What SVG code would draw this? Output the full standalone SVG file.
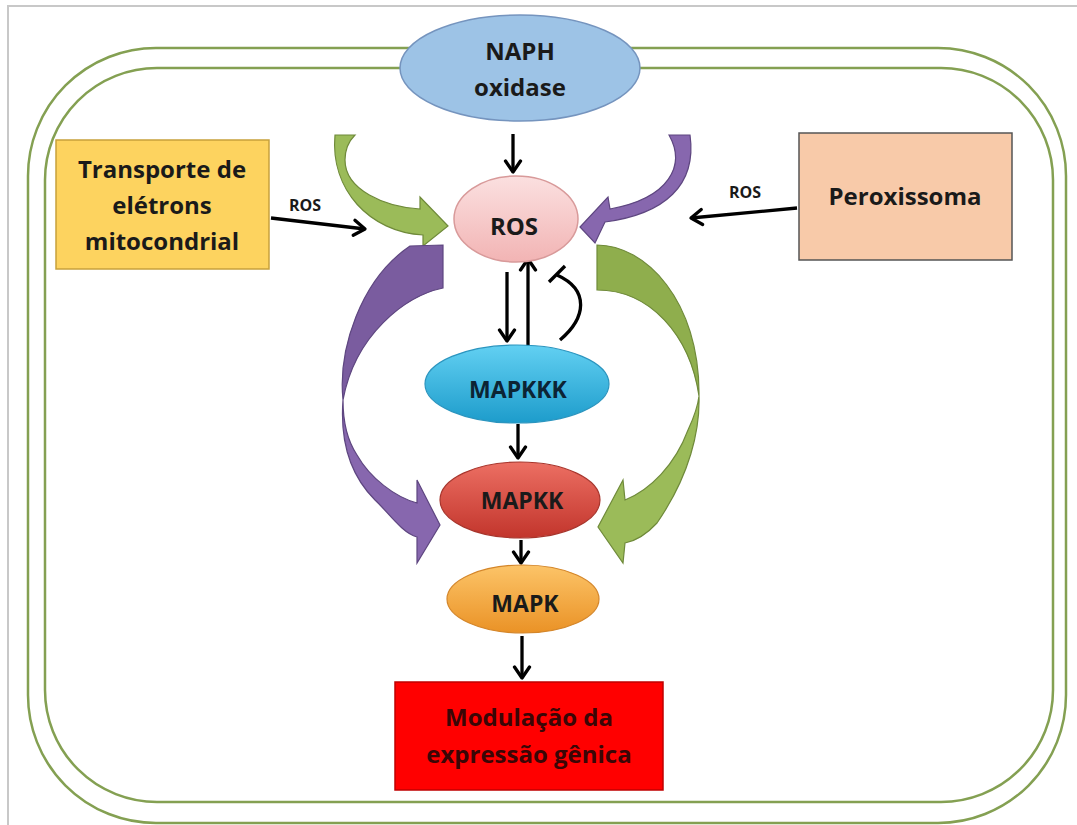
<svg xmlns="http://www.w3.org/2000/svg" width="1077" height="825" viewBox="0 0 1077 825">
<style>
.t{font-family:"Open Sans","Liberation Sans",sans-serif;font-weight:bold;text-anchor:middle;fill:#1a1a1a}
.big{font-size:24px}
.mid{font-size:23px}
.sm{font-size:16px}
.wall{fill:none;stroke:#84a052;stroke-width:2.5}
.ar{fill:none;stroke:#000;stroke-width:3.3}
.gu{fill:#8fae4d;stroke:#6f8a3a;stroke-width:1.2}
.gl{fill:#9bbb59;stroke:#6f8a3a;stroke-width:1.2}
.pu{fill:#7a5c9f;stroke:#5e4680;stroke-width:1.2}
.pl{fill:#8767ae;stroke:#5e4680;stroke-width:1.2}
</style>
<defs>
<marker id="ah" viewBox="-14 -10 16 20" refX="0" refY="0" markerWidth="16" markerHeight="20" markerUnits="userSpaceOnUse" orient="auto">
<path d="M-11,-7.5 L0,0 L-11,7.5" fill="none" stroke="#000" stroke-width="3.3" stroke-linejoin="round" stroke-linecap="round"/>
</marker>
<linearGradient id="gROS" x1="0" y1="0" x2="0" y2="1"><stop offset="0" stop-color="#fbe0e0"/><stop offset="1" stop-color="#f2b4b4"/></linearGradient>
<linearGradient id="gK3" x1="0" y1="0" x2="0" y2="1"><stop offset="0" stop-color="#62d0f2"/><stop offset="1" stop-color="#1d9ccb"/></linearGradient>
<linearGradient id="gK2" x1="0" y1="0" x2="0" y2="1"><stop offset="0" stop-color="#ec6f63"/><stop offset="1" stop-color="#c2352c"/></linearGradient>
<linearGradient id="gK1" x1="0" y1="0" x2="0" y2="1"><stop offset="0" stop-color="#fcc468"/><stop offset="1" stop-color="#ea9226"/></linearGradient>
</defs>
<rect width="1077" height="825" fill="#fff"/>
<path d="M8,825 L8,6 L1077,6" fill="none" stroke="#c8c8c8" stroke-width="2"/>
<g id="cell-wall">
<rect class="wall" x="28" y="48" width="1038" height="775" rx="128" ry="128"/>
<rect class="wall" x="45" y="68" width="1008" height="734" rx="112" ry="112"/>
</g>
<g id="curved-arrows">
<path class="gl" d="M335,135 C330,190 370,232 423,235 L423,246 L448,226 L420,197 L420,209 C385,207 345,190 345,160 C345,148 350,140 355,135 Z"/>
<path class="pl" d="M669,135 C686,165 670,198 610,209 L608,197 L580,227 L595,243 L605,222 C665,214 697,185 690,135 Z"/>
<path class="pu" d="M410,246 L443,245 L443,288 C405,296 355,335 343,400 C338,350 360,280 410,246 Z"/>
<path class="pl" d="M343,400 C340,440 350,475 375,500 C388,512 402,533 417,537 L417,563 L440,525 L417,480 L417,503 C395,497 370,478 357,455 C347,440 343,420 343,400 Z"/>
<path class="gu" d="M597,245 C645,245 700,300 699,396 C690,335 650,290 597,290 Z"/>
<path class="gl" d="M699,396 C700,430 690,475 657,523 C645,536 635,541 625,543 L623,563 L598,527 L623,480 L625,500 C650,490 675,465 688,430 C695,415 698,405 699,396 Z"/>
</g>
<g id="connectors">
<line class="ar" x1="513" y1="134" x2="513" y2="172" marker-end="url(#ah)"/>
<line class="ar" x1="507" y1="272" x2="507" y2="341" marker-end="url(#ah)"/>
<line class="ar" x1="528" y1="346" x2="528" y2="259" marker-end="url(#ah)"/>
<path class="ar" d="M560,340 C586,318 590,290 557,275"/>
<line class="ar" x1="549" y1="282" x2="565" y2="266"/>
<line class="ar" x1="518" y1="424" x2="518" y2="458" marker-end="url(#ah)"/>
<line class="ar" x1="521" y1="540" x2="521" y2="563" marker-end="url(#ah)"/>
<line class="ar" x1="522" y1="636" x2="522" y2="678" marker-end="url(#ah)"/>
<line class="ar" x1="271" y1="218" x2="365" y2="229" marker-end="url(#ah)"/>
<line class="ar" x1="797" y1="208" x2="691" y2="218" marker-end="url(#ah)"/>
<text class="t sm" x="305" y="211">ROS</text>
<text class="t sm" x="745" y="198">ROS</text>
</g>
<g id="naph">
<ellipse cx="520" cy="68" rx="120" ry="53" fill="#9dc3e6" stroke="#7594be" stroke-width="1.5"/>
<text class="t big" x="520" y="60" fill="#1b2233">NAPH</text>
<text class="t big" x="520" y="96" fill="#1b2233">oxidase</text>
</g>
<g id="ros">
<ellipse cx="516" cy="219" rx="62" ry="43" fill="url(#gROS)" stroke="#d89a9a" stroke-width="1.5"/>
<text class="t big" x="514" y="235">ROS</text>
</g>
<g id="mapkkk">
<ellipse cx="517" cy="384" rx="92" ry="39" fill="url(#gK3)" stroke="#2b95bf" stroke-width="1.2"/>
<text class="t mid" x="518" y="398" style="fill:#0c2434">MAPKKK</text>
</g>
<g id="mapkk">
<ellipse cx="520" cy="500" rx="80" ry="38" fill="url(#gK2)" stroke="#a8352c" stroke-width="1.2"/>
<text class="t mid" x="522" y="509">MAPKK</text>
</g>
<g id="mapk">
<ellipse cx="523" cy="599" rx="76" ry="34" fill="url(#gK1)" stroke="#d4862a" stroke-width="1.2"/>
<text class="t mid" x="525" y="612">MAPK</text>
</g>
<g id="mitocondria">
<rect x="56" y="140" width="213" height="129" fill="#fdd35f" stroke="#c7a13b" stroke-width="1.5"/>
<text class="t big" x="162" y="178">Transporte de</text>
<text class="t big" x="162" y="214">elétrons</text>
<text class="t big" x="162" y="250">mitocondrial</text>
</g>
<g id="peroxissoma">
<rect x="799" y="133" width="213" height="127" fill="#f8caa9" stroke="#555" stroke-width="1.5"/>
<text class="t big" x="905" y="205">Peroxissoma</text>
</g>
<g id="modulacao">
<rect x="395" y="682" width="268" height="108" fill="#ff0000" stroke="#c00000" stroke-width="1.5"/>
<text class="t big" x="529" y="726" style="fill:#3a0606">Modulação da</text>
<text class="t big" x="529" y="763" style="fill:#3a0606">expressão gênica</text>
</g>
</svg>
